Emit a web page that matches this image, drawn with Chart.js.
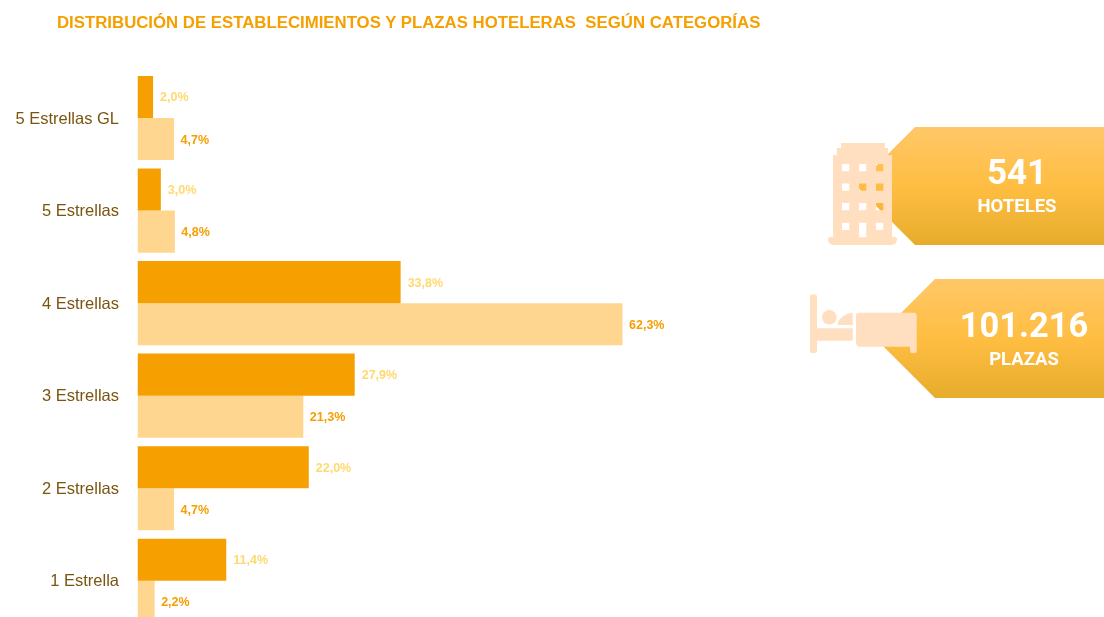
<!DOCTYPE html>
<html><head><meta charset="utf-8">
<script src="https://cdn.jsdelivr.net/npm/chart.js@4"></script>
<style>
html,body{margin:0;padding:0;background:#fff;overflow:hidden;width:1104px;height:617px}
#wrap{position:relative;width:1104px;height:617px;overflow:hidden}
#c{position:absolute;left:0;top:0}
#ov{position:absolute;left:0;top:0}
#ov text.k{font-family:Roboto,sans-serif;font-weight:700;fill:#fff;text-anchor:middle}
#title{font-family:"Liberation Sans",sans-serif;font-weight:700;font-size:16.8px;fill:#F59F00;white-space:pre}
</style></head><body>
<div id="wrap">
<canvas id="c" width="1104" height="650"></canvas>
<svg id="ov" width="1104" height="617" viewBox="0 0 1104 617">
<defs><linearGradient id="g" x1="0" y1="0" x2="0" y2="1">
<stop offset="0" stop-color="#FFC768"/><stop offset=".5" stop-color="#FFBE42"/><stop offset="1" stop-color="#E7AC2C"/></linearGradient></defs>
<text id="title" x="57" y="27.7" xml:space="preserve"></text>
<polygon points="915,127 1104,127 1104,245 915,245 856,186" fill="url(#g)"/>
<polygon points="935,279 1104,279 1104,398 935,398 875.5,338.5" fill="url(#g)"/>
<path fill="#FFDFC0" fill-rule="evenodd" d="M841,143H885V148H888V155H892V237H895Q897,237 897,239Q897,245 890,245H835Q828,245 828,239Q828,237 830,237H833V155H837V148H841Z
M842,164h7.3v7.3h-7.3Z M859,164h7.3v7.3h-7.3Z M876,164h7.3v7.3h-7.3Z
M842,183.5h7.3v7.3h-7.3Z M859,183.5h7.3v7.3h-7.3Z M876,183.5h7.3v7.3h-7.3Z
M842,203h7.3v7.3h-7.3Z M859,203h7.3v7.3h-7.3Z M876,203h7.3v7.3h-7.3Z
M842,222.7h7.3v7.3h-7.3Z M859,222.7h7.3v14.6h-7.3Z M876,222.7h7.3v7.3h-7.3Z"/>
<g fill="#FFDFC0">
<rect x="810" y="294.5" width="7" height="58.5" rx="2"/>
<rect x="812" y="328.3" width="40.7" height="12.4"/>
<circle cx="829.3" cy="317.3" r="7.3"/>
<path d="M838,325V322Q842,314 852.7,312.7V325Z"/>
<path d="M859,312.7H914Q916.7,312.7 916.7,315.5V351Q916.7,353 914,353H912Q910,353 910,351V346.7H860Q856,346.7 856,342V315.5Q856,312.7 859,312.7Z"/>
</g>
<text class="k" id="t1" x="1017" y="184" font-size="35"></text>
<text class="k" id="t2" x="1017" y="212" font-size="18.5"></text>
<text class="k" id="t3" x="1024" y="337" font-size="34.4"></text>
<text class="k" id="t4" x="1024" y="365" font-size="18.5"></text>
</svg>
</div>
<script>
const titleText = 'DISTRIBUCIÓN DE ESTABLECIMIENTOS Y PLAZAS HOTELERAS  SEGÚN CATEGORÍAS';
const categories = ['5 Estrellas GL','5 Estrellas','4 Estrellas','3 Estrellas','2 Estrellas','1 Estrella'];
const establecimientos = [2.0,3.0,33.8,27.9,22.0,11.4];
const plazas = [4.7,4.8,62.3,21.3,4.7,2.2];
const kpiHoteles = ['541','HOTELES'];
const kpiPlazas = ['101.216','PLAZAS'];

document.getElementById('title').textContent = titleText;
document.getElementById('t1').textContent = kpiHoteles[0];
document.getElementById('t2').textContent = kpiHoteles[1];
document.getElementById('t3').textContent = kpiPlazas[0];
document.getElementById('t4').textContent = kpiPlazas[1];

const labelColors = ['#FFD970','#F59F00'];
const labelGaps = [7,6.5];
const valueLabels = {
  id:'valueLabels',
  afterDatasetsDraw(chart){
    const ctx = chart.ctx;
    ctx.save();
    ctx.font = 'bold 12.5px "Liberation Sans"';
    ctx.textBaseline = 'middle';
    ctx.textAlign = 'left';
    chart.data.datasets.forEach((ds,i)=>{
      ctx.fillStyle = labelColors[i];
      chart.getDatasetMeta(i).data.forEach((bar,j)=>{
        ctx.fillText(ds.data[j].toFixed(1).replace('.',',')+'%', bar.x+labelGaps[i], bar.y+1);
      });
    });
    ctx.restore();
  }
};

new Chart(document.getElementById('c'),{
  type:'bar',
  data:{labels:categories,datasets:[
    {label:'Establecimientos',data:establecimientos,backgroundColor:'#F59F00',categoryPercentage:0.909,barPercentage:1,borderWidth:0},
    {label:'Plazas',data:plazas,backgroundColor:'#FFD68F',categoryPercentage:0.909,barPercentage:1,borderWidth:0}
  ]},
  options:{
    indexAxis:'y',responsive:false,animation:false,
    layout:{padding:{left:0,right:188,top:71.8,bottom:23}},
    plugins:{legend:{display:false},tooltip:{enabled:false},title:{display:false}},
    scales:{
      x:{display:false,min:0,max:100,grid:{display:false}},
      y:{grid:{display:false},border:{display:false},
        afterFit(s){s.width=137.5;},
        ticks:{color:'#7A5510',padding:10.5,labelOffset:1,font:{family:'"Liberation Sans"',size:16.5}}}
    }
  },
  plugins:[valueLabels]
});
</script>
</body></html>
